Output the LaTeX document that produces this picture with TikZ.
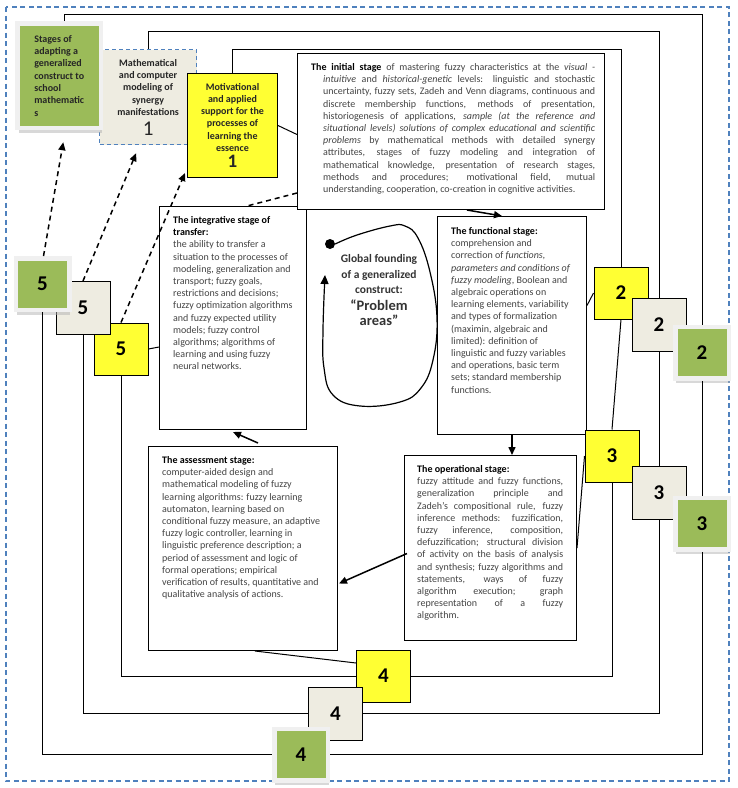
\documentclass[tikz,border=0pt]{standalone}
\usepackage{fontspec}
\setmainfont{Carlito}
\usepackage{tikz}
\usetikzlibrary{arrows.meta, calc, shadows}
\definecolor{stageYellow}{RGB}{255,255,51}
\definecolor{stageBeige}{RGB}{238,236,225}
\definecolor{stageGreen}{RGB}{155,187,89}
\definecolor{frameBlue}{RGB}{79,129,189}
\definecolor{bodyGray}{RGB}{68,68,68}
\tikzset{
  stagebox/.style={draw, line width=1pt, fill=white, anchor=north west, inner sep=0pt},
  raggedtext/.style={anchor=north west, inner sep=0pt, align=left, text=bodyGray,
    font=\fontsize{10}{12.2}\selectfont},
  justtext/.style={anchor=north west, inner sep=0pt, text=bodyGray,
    font=\fontsize{10}{12.2}\selectfont},
  topfont/.style={font=\fontsize{10}{12.3}\selectfont\bfseries, text=black!85},
  greenframe/.style={draw=white!94!black, line width=4.5pt, fill=stageGreen,
    drop shadow={shadow xshift=1pt, shadow yshift=-5pt, fill=black!30}},
  numsq/.style={line width=1pt, inner sep=0pt, font=\fontsize{21}{21}\selectfont\bfseries},
  yellowsq/.style={numsq, draw, fill=stageYellow, minimum width=54pt, minimum height=52pt},
  beigesq/.style={numsq, draw, fill=stageBeige, minimum width=54pt, minimum height=53pt},
  greensq/.style={numsq, greenframe, minimum width=53.5pt, minimum height=51.5pt},
  link/.style={line width=1pt},
  flow/.style={line width=1.5pt, -{Triangle[length=8pt, width=7pt]}},
  dashflow/.style={line width=1.5pt, dash pattern=on 5pt off 4pt, -{Triangle[length=8pt, width=7pt]}},
}
\newcommand{\stagehead}[1]{\textcolor{black}{\textbf{#1}}}

\begin{document}
\begin{tikzpicture}[x=1pt, y=-1pt]
  \useasboundingbox (0,0) rectangle (738,788);
  % outer frame
  \draw[frameBlue, line width=1.2pt, dash pattern=on 5pt off 3.5pt] (6,7) rectangle (729,781);

  % top boxes
  \node[draw=frameBlue, dash pattern=on 4pt off 3pt, line width=1.2pt, fill=stageBeige,
    minimum width=97pt, minimum height=95pt, anchor=north west, align=center, topfont] (model) at (99,49)
    {Mathematical\\and computer\\modeling of\\synergy\\manifestations\\[5pt]{\fontsize{21}{21}\selectfont\mdseries 1}};
  \node[draw, line width=1pt, fill=stageYellow, minimum width=90pt, minimum height=104pt,
    anchor=north west, align=center, topfont] (motiv) at (187,73)
    {Motivational\\and applied\\support for the\\processes of\\learning the\\essence\\[3pt]{\fontsize{19}{19}\selectfont 1}};
  \node[greenframe, minimum width=83.5pt, minimum height=104.5pt, anchor=north west, align=left, topfont] (adapt) at (15.25,21.25)
    {Stages of\\adapting a\\generalized\\construct to\\school\\mathematic\\s};

  % stage boxes
  \node[stagebox, minimum width=147pt, minimum height=223pt] (integ) at (159,206) {};
  \node[stagebox, minimum width=307pt, minimum height=156pt] (init) at (297,53) {};
  \node[stagebox, minimum width=149pt, minimum height=218pt] (func) at (437,216) {};
  \node[stagebox, minimum width=172pt, minimum height=185pt] (oper) at (404,455) {};
  \node[stagebox, minimum width=189pt, minimum height=204pt] (assess) at (148,446) {};

  \node[justtext] (inittext) at ($(init.north west)+(14,10.3)$) {\parbox[t]{284pt}{%
    \hangindent=12pt \hangafter=1 \spaceskip=0.22em plus 0.6em minus 0.1em
    \stagehead{The initial stage} of mastering fuzzy characteristics at the \textit{visual -}\linebreak
    \textit{intuitive} and \textit{historical-genetic} levels: linguistic and stochastic\linebreak
    uncertainty, fuzzy sets, Zadeh and Venn diagrams, continuous and\linebreak
    discrete membership functions, methods of presentation,\linebreak
    historiogenesis of applications, \textit{sample (at the reference and\linebreak
    situational levels) solutions of complex educational and scientific\linebreak
    problems} by mathematical methods with detailed synergy\linebreak
    attributes, stages of fuzzy modeling and integration of\linebreak
    mathematical knowledge, presentation of research stages,\linebreak
    methods and procedures; motivational field, mutual\linebreak
    understanding, cooperation, co-creation in cognitive activities.}};
  \node[raggedtext] (integtext) at ($(integ.north west)+(14,10.3)$)
    {\stagehead{The integrative stage of}\\\stagehead{transfer:}\\the ability to transfer a\\
     situation to the processes of\\modeling, generalization and\\transport; fuzzy goals,\\
     restrictions and decisions;\\fuzzy optimization algorithms\\and fuzzy expected utility\\
     models; fuzzy control\\algorithms; algorithms of\\learning and using fuzzy\\neural networks.};
  \node[raggedtext] (functext) at ($(func.north west)+(14,11.3)$)
    {\stagehead{The functional stage:}\\comprehension and\\correction of \textit{functions,}\\
     \textit{parameters and conditions of}\\\textit{fuzzy modeling}, Boolean and\\
     algebraic operations on\\learning elements, variability\\and types of formalization\\
     (maximin, algebraic and\\limited): definition of\\linguistic and fuzzy variables\\
     and operations, basic term\\sets; standard membership\\functions.};
  \node[justtext] (opertext) at ($(oper.north west)+(13,10.3)$) {\parbox[t]{146pt}{%
    \spaceskip=0.22em plus 0.8em minus 0.1em
    \stagehead{The operational stage:}\\
    fuzzy attitude and fuzzy functions,\linebreak
    generalization principle and\linebreak
    Zadeh’s compositional rule, fuzzy\linebreak
    inference methods: fuzzification,\linebreak
    fuzzy inference, composition,\linebreak
    defuzzification; structural division\linebreak
    of activity on the basis of analysis\linebreak
    and synthesis; fuzzy algorithms and\linebreak
    statements, ways of fuzzy\linebreak
    algorithm execution; graph\linebreak
    representation of a fuzzy\linebreak
    algorithm.}};
  \node[raggedtext] (assesstext) at ($(assess.north west)+(14,10.3)$)
    {\stagehead{The assessment stage:}\\computer-aided design and\\mathematical modeling of fuzzy\\
     learning algorithms: fuzzy learning\\automaton, learning based on\\
     conditional fuzzy measure, an adaptive\\fuzzy logic controller, learning in\\
     linguistic preference description; a\\period of assessment and logic of\\
     formal operations; empirical\\verification of results, quantitative and\\
     qualitative analysis of actions.};

  % centre
  \node[circle, fill, inner sep=0pt, minimum size=10pt] (dot) at (330,244) {};
  \coordinate (looptip) at (325,275);
  \draw[line width=1.2pt, -{Triangle[length=9pt, width=8pt]}] plot[smooth, tension=0.7] coordinates
    {(dot.east) (357,235) (390,226) (405,226) (418,238) (430,272) (437,318) (433,360)
     (421,388) (400,402) (360,406) (333,395) (324,368) (323,330) (looptip)};
  \node[align=center, anchor=north, text=black!80, font=\fontsize{11.5}{15.5}\selectfont\bfseries] (core) at (379,251)
    {Global founding\\of a generalized\\construct:\\[1pt]{\fontsize{14.5}{15}\selectfont “Problem}\\{\fontsize{14.5}{15}\selectfont areas”}};

  % numbered squares
  \node[yellowsq] (Y2) at (621,293) {2};
  \node[yellowsq] (Y3) at (612,456) {3};
  \node[yellowsq] (Y4) at (383.5,676) {4};
  \node[yellowsq] (Y5) at (121,349) {5};
  \node[beigesq] (B2) at (659,325) {2};
  \node[beigesq] (B3) at (659,492.5) {3};
  \node[beigesq] (B4) at (335.5,713.5) {4};
  \node[beigesq] (B5) at (83,308) {5};
  \node[greensq] (G2) at (702,352.5) {2};
  \node[greensq] (G3) at (702,523.5) {3};
  \node[greensq] (G4) at (301,754.5) {4};
  \node[greensq] (G5) at (42.5,284) {5};

  % loops
  \coordinate (greentop) at (0,14);
  \coordinate (beigetop) at (0,31);
  \coordinate (yellowtop) at (0,49);
  \draw[link] (Y5.south) |- (Y4.west);
  \draw[link] (Y4.east) -| (Y3.south);
  \draw[link] (Y3.north) -- (Y2.south);
  \draw[link] (Y2.north) |- (yellowtop -| motiv.north) -- (motiv.north);
  \draw[link] (B5.south) |- (B4.west);
  \draw[link] (B4.east) -| (B3.south);
  \draw[link] (B3.north) -- (B2.south);
  \draw[link] (B2.north) |- (beigetop -| model.north) -- (model.north);
  \draw[link] (G5.south) |- (G4.west);
  \draw[link] (G4.east) -| (G3.south);
  \draw[link] (G3.north) -- (G2.south);
  \draw[link] (G2.north) |- ($(greentop -| adapt.north)+(5,0)$) -- ($(adapt.north)+(5,0)$);

  % links and flow
  \draw[link] (motiv.east) -- ($(init.west)+(0,3)$);
  \draw[link] ($(func.east)+(0,-20)$) -- (Y2.west);
  \draw[link] (oper.east) -- (Y3.west);
  \draw[link] ($(assess.south)+(12,0)$) -- ($(Y4.west)+(0,-13)$);
  \draw[link] (Y5.east) -- ($(integ.west)+(0,29)$);
  \draw[flow] ($(init.south)+(16,0)$) -- ($(func.north)+(-10,0)$);
  \draw[flow] (func.south) -- (func.south |- oper.north);
  \draw[flow] ($(oper.west)+(3,5.5)$) -- ($(assess.east)+(1,35)$);
  \draw[flow] ($(assess.north)+(15,-3)$) -- ($(integ.south)+(0,2)$);
  \draw[line width=1.5pt, dash pattern=on 5pt off 4pt] ($(init.south west)+(0,-17)$) -- ($(integ.north west)+(88,0)$);
  \draw[dashflow] ([xshift=1pt]G5.north) -- ($(adapt.south)+(4,12)$);
  \draw[dashflow] (B5.north) -- ($(model.south)+(-12,8)$);
  \draw[dashflow] (Y5.north) -- ($(motiv.south west)+(-2,-5)$);
\end{tikzpicture}
\end{document}
